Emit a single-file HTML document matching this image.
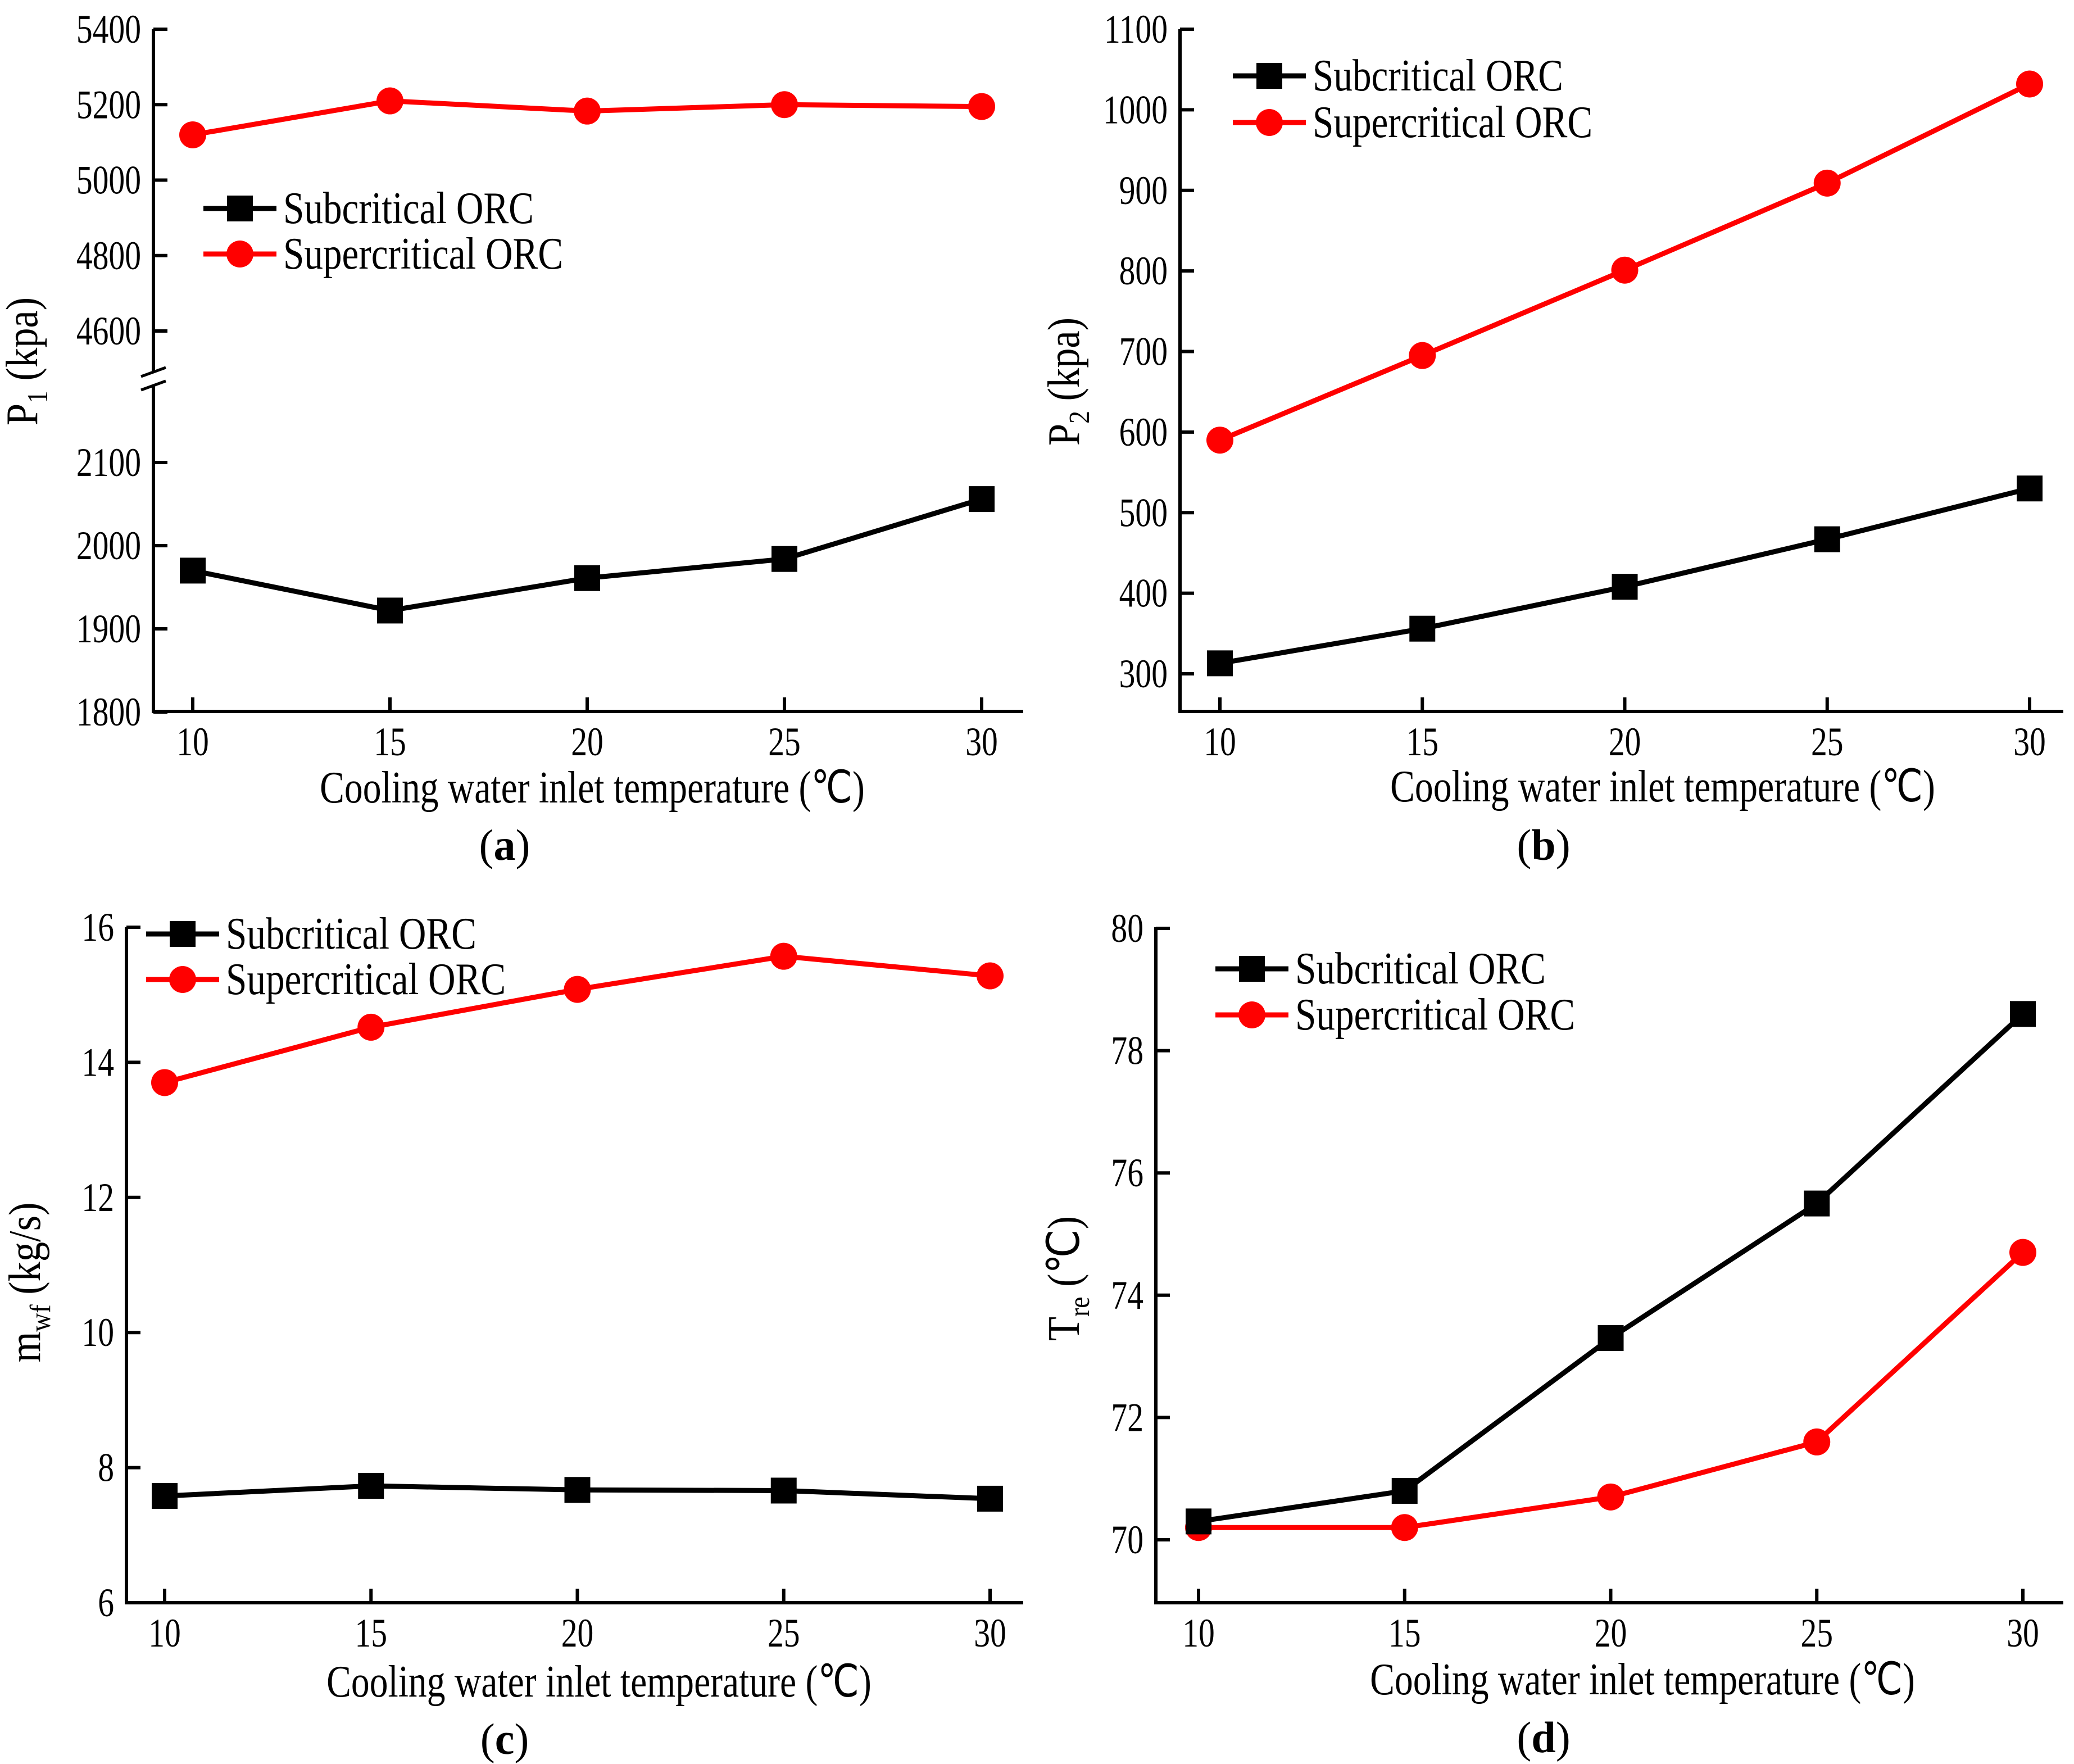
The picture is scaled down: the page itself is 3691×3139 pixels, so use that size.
<!DOCTYPE html>
<html><head><meta charset="utf-8"><style>html,body{margin:0;padding:0;background:#fff}svg{display:block}</style></head>
<body>
<svg id="fig" xmlns="http://www.w3.org/2000/svg" width="3691" height="3139" viewBox="0 0 3691 3139"></svg>
<script>
const xCats = [10, 15, 20, 25, 30];
const aSub = [1970, 1922, 1961, 1984, 2056];
const aSup = [5120, 5210, 5183, 5200, 5195];
const aTicksLow = [1800, 1900, 2000, 2100];
const aTicksHigh = [4600, 4800, 5000, 5200, 5400];
const bSub = [313, 356, 408, 467, 530];
const bSup = [590, 695, 801, 909, 1032];
const bTicks = [300, 400, 500, 600, 700, 800, 900, 1000, 1100];
const cSub = [7.58, 7.73, 7.67, 7.66, 7.54];
const cSup = [13.7, 14.52, 15.08, 15.57, 15.28];
const cTicks = [6, 8, 10, 12, 14, 16];
const dSub = [70.3, 70.8, 73.3, 75.5, 78.6];
const dSup = [70.2, 70.2, 70.7, 71.6, 74.7];
const dTicks = [70, 72, 74, 76, 78, 80];

const NS = "http://www.w3.org/2000/svg";
const svg = document.getElementById('fig');
const RED = '#ff0000';
function mk(tag, attrs, parent) {
  const e = document.createElementNS(NS, tag);
  for (const k in attrs) e.setAttribute(k, attrs[k]);
  (parent || svg).appendChild(e);
  return e;
}
function txt(x, y, s, anchor, size, parent, rot, sx) {
  const t = mk('text', {x: 0, y: 0, 'font-family': '"Liberation Serif", serif', 'font-size': size, 'text-anchor': anchor, fill: '#000',
    transform: 'translate(' + x + ',' + y + ')' + (rot ? ' rotate(' + rot + ')' : '') + ' scale(' + (sx || 0.8) + ',1)'}, parent);
  t.textContent = s;
  return t;
}

function panel(cfg) {
  const g = mk('g', {});
  
  
  const xs = v => cfg.x0 + (v - 10) / 20 * (cfg.x1 - cfg.x0);
  const ys = cfg.ys;
  const ax = mk('path', {d: 'M' + cfg.L + ' ' + cfg.top + ' V' + cfg.B + ' H' + cfg.R, stroke: '#000', 'stroke-width': 6, fill: 'none'}, g);
  
  
  xCats.forEach(c => {
    const X = xs(c);
    mk('line', {x1: X, x2: X, y1: cfg.B, y2: cfg.B - 25, stroke: '#000', 'stroke-width': 6}, g);
    const t = txt(X, cfg.B + 78, String(c), 'middle', 72, g);
    
    
  });
  cfg.yTicks.forEach(v => {
    const Y = ys(v);
    mk('line', {x1: cfg.L, x2: cfg.L + 25, y1: Y, y2: Y, stroke: '#000', 'stroke-width': 6}, g);
    const t = txt(cfg.L - 22, Y + 24, String(v), 'end', 72, g);
    
    
  });
  if (cfg.brk) {
    mk('rect', {x: cfg.L - 8, y: cfg.brk - 12, width: 16, height: 24, fill: '#fff'}, g);
    mk('line', {x1: cfg.L - 22, y1: cfg.brk - 4, x2: cfg.L + 22, y2: cfg.brk - 20, stroke: '#000', 'stroke-width': 5}, g);
    mk('line', {x1: cfg.L - 22, y1: cfg.brk + 20, x2: cfg.L + 22, y2: cfg.brk + 4, stroke: '#000', 'stroke-width': 5}, g);
  }
  function series(vals, color, shape, nm) {
    const pts = vals.map((v, i) => xs(xCats[i]) + ',' + ys(v)).join(' ');
    const pl = mk('polyline', {points: pts, fill: 'none', stroke: color, 'stroke-width': 9, 'stroke-linejoin': 'round'}, g);
    
    
    vals.forEach((v, i) => {
      const X = xs(xCats[i]), Y = ys(v);
      let m;
      if (shape === 'sq') m = mk('rect', {x: X - 23, y: Y - 23, width: 46, height: 46, fill: color}, g);
      else m = mk('circle', {cx: X, cy: Y, r: 24, fill: color}, g);
      
      
    });
  }
  series(cfg.sup, RED, 'ci', 'supercritical');
  series(cfg.sub, '#000', 'sq', 'subcritical');
  const lg = mk('g', {}, g);
  
  
  const lx = cfg.leg[0], ly1 = cfg.leg[1], ly2 = cfg.leg[2];
  mk('line', {x1: lx, x2: lx + 130, y1: ly1, y2: ly1, stroke: '#000', 'stroke-width': 9}, lg);
  mk('rect', {x: lx + 42, y: ly1 - 23, width: 46, height: 46, fill: '#000'}, lg);
  const t1 = txt(lx + 142, ly1 + 26, 'Subcritical ORC', 'start', 80, lg, 0, 0.84);
  
  
  mk('line', {x1: lx, x2: lx + 130, y1: ly2, y2: ly2, stroke: RED, 'stroke-width': 9}, lg);
  mk('circle', {cx: lx + 65, cy: ly2, r: 24, fill: RED}, lg);
  const t2 = txt(lx + 142, ly2 + 26, 'Supercritical ORC', 'start', 80, lg, 0, 0.84);
  
  
  const xt = txt(cfg.xt[0], cfg.xt[1], 'Cooling water inlet temperature (℃)', 'middle', 80, g, 0, 0.82);
  
  
  const yt = mk('text', {x: 0, y: 0, 'font-family': '"Liberation Serif", serif', 'font-size': 80, 'text-anchor': 'middle',
    transform: 'translate(' + cfg.yt[0] + ',' + cfg.yt[1] + ') rotate(-90) scale(0.88,1)'}, g);
  
  
  const s1 = mk('tspan', {}, yt); s1.textContent = cfg.ytitle[0];
  const s2 = mk('tspan', {'font-size': 52, dy: 18}, yt); s2.textContent = cfg.ytitle[1];
  const s3 = mk('tspan', {dy: -18}, yt); s3.textContent = cfg.ytitle[2];
  const pl = mk('text', {x: cfg.pl[0], y: cfg.pl[1], 'font-family': '"Liberation Serif", serif', 'font-size': 78, 'text-anchor': 'middle'}, g);
  
  
  const p1 = mk('tspan', {}, pl); p1.textContent = '(';
  const p2 = mk('tspan', {'font-weight': 'bold'}, pl); p2.textContent = cfg.letter;
  const p3 = mk('tspan', {}, pl); p3.textContent = ')';
}

const aLow = v => 1267 - (v - 1800) / 300 * (1267 - 823);
const aHigh = v => 589 - (v - 4600) / 800 * (589 - 52);
panel({name: 'panel-a', L: 273, R: 1821, B: 1266, top: 52, x0: 343, x1: 1747,
  ys: v => v > 3000 ? aHigh(v) : aLow(v), yTicks: aTicksLow.concat(aTicksHigh), brk: 674,
  sub: aSub, sup: aSup, leg: [362, 371, 452], xt: [1054, 1428], yt: [66, 643],
  ytitle: ['P', '1', ' (kpa)'], pl: [898, 1530], letter: 'a'});
panel({name: 'panel-b', L: 2100, R: 3672, B: 1266, top: 52, x0: 2171, x1: 3612,
  ys: v => 1199 - (v - 300) / 800 * (1199 - 52), yTicks: bTicks,
  sub: bSub, sup: bSup, leg: [2194, 135, 218], xt: [2959, 1426], yt: [1920, 679],
  ytitle: ['P', '2', ' (kpa)'], pl: [2747, 1530], letter: 'b'});
panel({name: 'panel-c', L: 225, R: 1821, B: 2852, top: 1650, x0: 293, x1: 1762,
  ys: v => 2852 - (v - 6) / 10 * (2852 - 1650), yTicks: cTicks,
  sub: cSub, sup: cSup, leg: [260, 1662, 1743], xt: [1066, 3019], yt: [71, 2282],
  ytitle: ['m', 'wf', ' (kg/s)'], pl: [898, 3121], letter: 'c'});
panel({name: 'panel-d', L: 2057, R: 3672, B: 2852, top: 1650, x0: 2133, x1: 3600,
  ys: v => 2740 - (v - 70) / 10 * (2740 - 1652), yTicks: dTicks,
  sub: dSub, sup: dSup, leg: [2163, 1724, 1806], xt: [2923, 3015], yt: [1920, 2275],
  ytitle: ['T', 're', ' (℃)'], pl: [2747, 3118], letter: 'd'});
</script>
</body></html>
